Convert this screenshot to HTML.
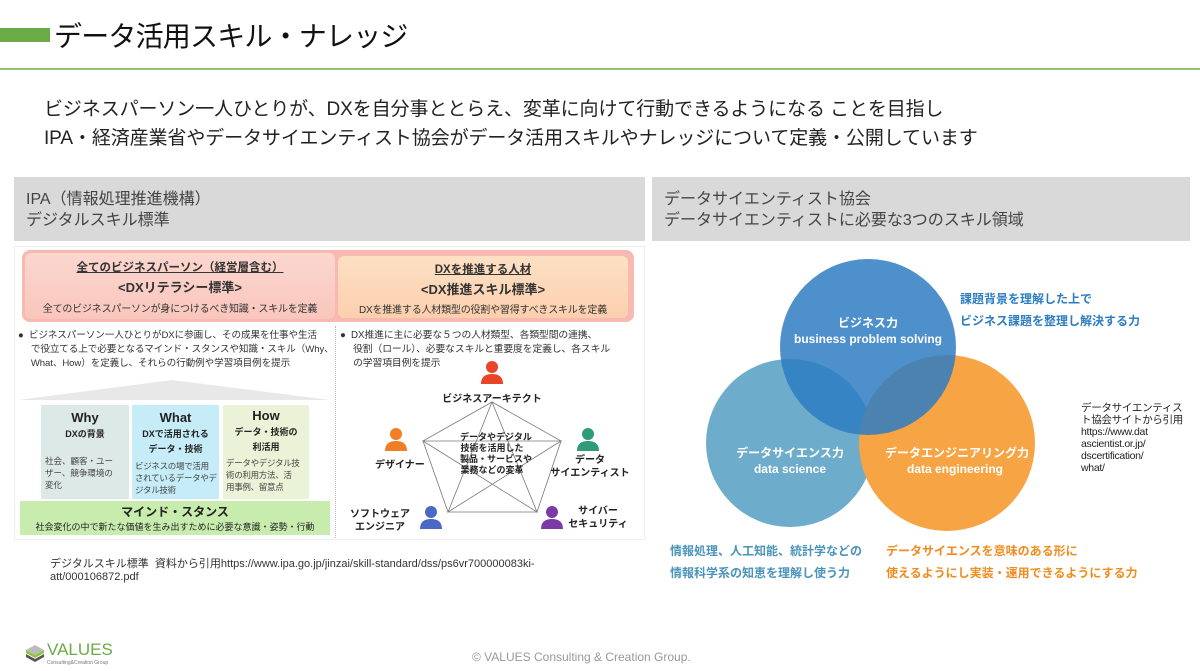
<!DOCTYPE html>
<html><head><meta charset="utf-8">
<style>
*{margin:0;padding:0;box-sizing:border-box}
body{width:1200px;height:671px;position:relative;background:#fff;font-family:"Liberation Sans","Noto Sans CJK JP",sans-serif;color:#222;overflow:hidden}
.a{position:absolute;white-space:nowrap}
.c{text-align:center}
</style></head><body>
<div class="a" style="left:0;top:28px;width:50px;height:14px;background:#6aab45"></div>
<div class="a" style="left:54px;top:15px;font-size:28px;color:#111;letter-spacing:-0.8px">データ活用スキル・ナレッジ</div>
<div class="a" style="left:0;top:68px;width:1200px;height:2px;background:#8ec46e"></div>

<div class="a" style="left:44px;top:95px;font-size:19px;color:#222;line-height:29px;letter-spacing:-0.1px">ビジネスパーソン一人ひとりが、DXを自分事ととらえ、変革に向けて行動できるようになる ことを目指し<br>IPA・経済産業省やデータサイエンティスト協会がデータ活用スキルやナレッジについて定義・公開しています</div>

<div class="a" style="left:14px;top:177px;width:631px;height:64px;background:#d9d9d9"></div>
<div class="a" style="left:26px;top:189px;font-size:16px;color:#444;line-height:21px">IPA（情報処理推進機構）<br>デジタルスキル標準</div>
<div class="a" style="left:652px;top:177px;width:538px;height:64px;background:#d9d9d9"></div>
<div class="a" style="left:664px;top:189px;font-size:16px;color:#444;line-height:21px">データサイエンティスト協会<br>データサイエンティストに必要な3つのスキル領域</div>

<div class="a" style="left:14px;top:246px;width:631px;height:294px;background:#fff;border:1px solid #eee"></div>
<div class="a" style="left:22px;top:250px;width:612px;height:72px;background:#f8b9b0;border-radius:8px"></div>
<div class="a" style="left:25px;top:253px;width:310px;height:66px;background:linear-gradient(#fbd7cf,#f9c6bd);border-radius:6px"></div>
<div class="a" style="left:338px;top:256px;width:290px;height:62px;background:linear-gradient(#fde0c4,#fbcfae);border-radius:6px"></div>
<div class="a c" style="left:25px;top:258px;width:310px;font-size:11.5px;font-weight:bold;color:#333;line-height:20px"><u>全てのビジネスパーソン（経営層含む）</u><br><span style="font-size:13px">&lt;DXリテラシー標準&gt;</span><br><span style="font-weight:normal;font-size:10px;letter-spacing:-0.2px">全てのビジネスパーソンが身につけるべき知識・スキルを定義</span></div>
<div class="a c" style="left:338px;top:261px;width:290px;font-size:11.5px;font-weight:bold;color:#333;line-height:19px"><u>DXを推進する人材</u><br><span style="font-size:13px">&lt;DX推進スキル標準&gt;</span><br><span style="font-weight:normal;font-size:10px;letter-spacing:-0.2px">DXを推進する人材類型の役割や習得すべきスキルを定義</span></div>
<div class="a" style="left:18px;top:329px;font-size:9.6px;line-height:14px;color:#333;letter-spacing:-0.1px">●&nbsp; ビジネスパーソン一人ひとりがDXに参画し、その成果を仕事や生活<br>&nbsp;&nbsp;&nbsp;&nbsp;&nbsp;で役立てる上で必要となるマインド・スタンスや知識・スキル（Why、<br>&nbsp;&nbsp;&nbsp;&nbsp;&nbsp;What、How）を定義し、それらの行動例や学習項目例を提示</div>
<div class="a" style="left:335px;top:326px;width:0;height:212px;border-left:1px dotted #bbb"></div>
<div class="a" style="left:340px;top:329px;font-size:9.8px;line-height:14px;color:#333;letter-spacing:-0.1px">●&nbsp; DX推進に主に必要な５つの人材類型、各類型間の連携、<br>&nbsp;&nbsp;&nbsp;&nbsp;&nbsp;役割（ロール）、必要なスキルと重要度を定義し、各スキル<br>&nbsp;&nbsp;&nbsp;&nbsp;&nbsp;の学習項目例を提示</div>

<svg class="a" style="left:0;top:0" width="660" height="545">
<polygon points="18,400 172,380 330,400" fill="#e8e8e8"/>
<rect x="41" y="405" width="88" height="94" fill="#dde9e6"/>
<rect x="132" y="405" width="87" height="94" fill="#c5ecf7"/>
<rect x="223" y="405" width="86" height="94" fill="#eaf3d8"/>
<rect x="20" y="501" width="310" height="34" fill="#c7ecad"/>
<g stroke="#777" stroke-width="0.8" fill="none">
<polygon points="492,402 561,441 537,512 448,512 423,441"/>
<polyline points="492,402 537,512 423,441 561,441 448,512 492,402"/>
</g>
<g>
<circle cx="492" cy="367" r="6" fill="#e84427"/><path d="M481,384 q0,-10 11,-10 q11,0 11,10z" fill="#e84427"/>
<circle cx="396" cy="434" r="6" fill="#f07e26"/><path d="M385,451 q0,-10 11,-10 q11,0 11,10z" fill="#f07e26"/>
<circle cx="588" cy="434" r="6" fill="#2f9b7a"/><path d="M577,451 q0,-10 11,-10 q11,0 11,10z" fill="#2f9b7a"/>
<circle cx="431" cy="512" r="6" fill="#4a68c6"/><path d="M420,529 q0,-10 11,-10 q11,0 11,10z" fill="#4a68c6"/>
<circle cx="552" cy="512" r="6" fill="#7b3aa6"/><path d="M541,529 q0,-10 11,-10 q11,0 11,10z" fill="#7b3aa6"/>
</g>
</svg>
<div class="a c" style="left:41px;top:410px;width:88px;font-size:13px;font-weight:bold;line-height:15px">Why<br><span style="font-size:9px">DXの背景</span></div>
<div class="a" style="left:45px;top:455px;font-size:8.5px;line-height:12px;color:#444">社会、顧客・ユー<br>ザー、競争環境の<br>変化</div>
<div class="a c" style="left:132px;top:410px;width:87px;font-size:13px;font-weight:bold;line-height:15px">What<br><span style="font-size:9px;line-height:12px">DXで活用される<br>データ・技術</span></div>
<div class="a" style="left:135px;top:460px;font-size:8.5px;line-height:12px;color:#444;letter-spacing:-0.3px">ビジネスの場で活用<br>されているデータやデ<br>ジタル技術</div>
<div class="a c" style="left:223px;top:408px;width:86px;font-size:13px;font-weight:bold;line-height:15px">How<br><span style="font-size:9px;line-height:12px">データ・技術の<br>利活用</span></div>
<div class="a" style="left:226px;top:457px;font-size:8.5px;line-height:12px;color:#444;letter-spacing:-0.3px">データやデジタル技<br>術の利用方法、活<br>用事例、留意点</div>
<div class="a c" style="left:20px;top:505px;width:310px;font-size:12px;font-weight:bold;line-height:14px">マインド・スタンス<br><span style="font-size:9px;font-weight:normal">社会変化の中で新たな価値を生み出すために必要な意識・姿勢・行動</span></div>

<div class="a c" style="left:432px;top:390px;width:120px;font-size:10px;font-weight:bold">ビジネスアーキテクト</div>
<div class="a c" style="left:460px;top:432px;width:64px;font-size:9px;font-weight:bold;line-height:11px">データやデジタル<br>技術を活用した<br>製品・サービスや<br>業務などの変革</div>
<div class="a" style="left:375px;top:456px;font-size:10px;font-weight:bold">デザイナー</div>
<div class="a c" style="left:550px;top:454px;width:80px;font-size:10px;font-weight:bold;line-height:13px">データ<br>サイエンティスト</div>
<div class="a c" style="left:350px;top:508px;width:60px;font-size:10px;font-weight:bold;line-height:13px">ソフトウェア<br>エンジニア</div>
<div class="a c" style="left:568px;top:505px;width:60px;font-size:10px;font-weight:bold;line-height:13px">サイバー<br>セキュリティ</div>

<div class="a" style="left:50px;top:558px;font-size:11px;line-height:13px;color:#333">デジタルスキル標準&nbsp; 資料から引用https://www.ipa.go.jp/jinzai/skill-standard/dss/ps6vr700000083ki-<br>att/000106872.pdf</div>

<svg class="a" style="left:660px;top:250px" width="540" height="340">
<circle cx="130" cy="193" r="84" fill="#6eaccc"/>
<circle cx="287" cy="193" r="88" fill="#f7a444"/>
<circle cx="208" cy="97" r="88" fill="#2e7cc2" fill-opacity="0.85"/>
</svg>
<div class="a c" style="left:780px;top:315px;width:176px;font-size:12px;font-weight:bold;color:#fff;line-height:16px">ビジネス力<br>business problem solving</div>
<div class="a c" style="left:735px;top:445px;width:110px;font-size:12px;font-weight:bold;color:#fff;line-height:16px">データサイエンス力<br>data science</div>
<div class="a c" style="left:885px;top:445px;width:140px;font-size:12px;font-weight:bold;color:#fff;line-height:16px">データエンジニアリング力<br>data engineering</div>
<div class="a" style="left:960px;top:288px;font-size:12px;font-weight:bold;color:#2e7cc2;line-height:22px">課題背景を理解した上で<br>ビジネス課題を整理し解決する力</div>
<div class="a" style="left:670px;top:540px;font-size:12px;font-weight:bold;color:#4a93bb;line-height:22px">情報処理、人工知能、統計学などの<br>情報科学系の知恵を理解し使う力</div>
<div class="a" style="left:886px;top:540px;font-size:12px;font-weight:bold;color:#f08c1e;line-height:22px">データサイエンスを意味のある形に<br>使えるようにし実装・運用できるようにする力</div>
<div class="a" style="left:1081px;top:402px;font-size:10.5px;color:#222;line-height:12px;letter-spacing:-0.3px">データサイエンティス<br>ト協会サイトから引用<br>https://www.dat<br>ascientist.or.jp/<br>dscertification/<br>what/</div>

<svg class="a" style="left:24px;top:642px" width="22" height="22">
<polygon points="2,8 11,3 20,8 11,13" fill="#bbb"/>
<polygon points="2,12 11,17 20,12 20,15 11,20 2,15" fill="#555"/>
<polygon points="2,8 11,13 20,8 20,11 11,16 2,11" fill="#8ec43f"/>
</svg>
<div class="a" style="left:47px;top:640px;font-size:17px;color:#6aab45">VALUES</div>
<div class="a" style="left:47px;top:660px;font-size:5px;color:#777">Consulting&amp;Creation Group</div>
<div class="a" style="left:472px;top:650px;font-size:12px;color:#999">© VALUES Consulting &amp; Creation Group.</div>
</body></html>
